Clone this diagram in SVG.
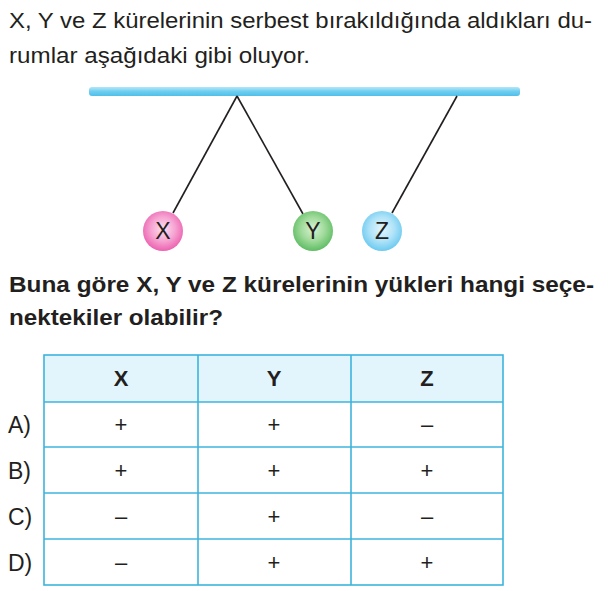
<svg xmlns="http://www.w3.org/2000/svg" width="611" height="591" viewBox="0 0 611 591">
<style>
.t{font-family:"Liberation Sans",Arial,sans-serif;fill:#231f20}
.p{font-size:22px}
.b{font-size:22px;font-weight:bold}
.lbl{font-size:23px}
.hd{font-size:22px;font-weight:bold;text-anchor:middle}
.cell{font-size:22px;text-anchor:middle}
.ball{font-size:23px;text-anchor:middle}
.str{stroke:#231f20;stroke-width:1.6;fill:none}
.grid{stroke:#3db4dc;stroke-width:1.6;fill:none}
</style>
<defs>
<linearGradient id="barG" x1="0" y1="0" x2="0" y2="1">
<stop offset="0" stop-color="#b4e7f8"/>
<stop offset="0.5" stop-color="#6fcdf0"/>
<stop offset="1" stop-color="#4fbfea"/>
</linearGradient>
<radialGradient id="gX" cx="0.5" cy="0.45" r="0.55">
<stop offset="0" stop-color="#fde0f0"/>
<stop offset="0.55" stop-color="#f6a4d2"/>
<stop offset="1" stop-color="#ec62b0"/>
</radialGradient>
<radialGradient id="gY" cx="0.5" cy="0.45" r="0.55">
<stop offset="0" stop-color="#d9f2d4"/>
<stop offset="0.55" stop-color="#9fda9a"/>
<stop offset="1" stop-color="#5fbd64"/>
</radialGradient>
<radialGradient id="gZ" cx="0.5" cy="0.45" r="0.55">
<stop offset="0" stop-color="#e3f6fd"/>
<stop offset="0.55" stop-color="#b0e3f8"/>
<stop offset="1" stop-color="#6ccaf0"/>
</radialGradient>
</defs>

<g id="intro">
<text class="t p" x="9" y="28" textLength="583" lengthAdjust="spacingAndGlyphs">X, Y ve Z kürelerinin serbest bırakıldığında aldıkları du-</text>
<text class="t p" x="9" y="63" textLength="301" lengthAdjust="spacingAndGlyphs">rumlar aşağıdaki gibi oluyor.</text>
</g>

<g id="bar">
<rect x="89" y="87" width="431" height="9" rx="3" fill="url(#barG)"/>
</g>

<g id="connectors">
<line class="str" x1="237" y1="96" x2="173" y2="213"/>
<line class="str" x1="237" y1="96" x2="303" y2="214"/>
<line class="str" x1="457" y1="96" x2="392" y2="213"/>
</g>

<g id="ballX">
<circle cx="163" cy="231" r="20" fill="url(#gX)"/>
<text class="t ball" x="163" y="239">X</text>
</g>
<g id="ballY">
<circle cx="313" cy="231" r="20" fill="url(#gY)"/>
<text class="t ball" x="313" y="239">Y</text>
</g>
<g id="ballZ">
<circle cx="382" cy="231" r="20" fill="url(#gZ)"/>
<text class="t ball" x="382" y="239">Z</text>
</g>

<g id="question">
<text class="t b" x="9" y="292" textLength="585" lengthAdjust="spacingAndGlyphs">Buna göre X, Y ve Z kürelerinin yükleri hangi seçe-</text>
<text class="t b" x="9" y="325" textLength="214" lengthAdjust="spacingAndGlyphs">nektekiler olabilir?</text>
</g>

<g id="table">
<rect x="44" y="355" width="459" height="47" fill="#e2f5fc"/>
<rect class="grid" x="44" y="355" width="459" height="230"/>
<line class="grid" x1="44" y1="402" x2="503" y2="402"/>
<line class="grid" x1="44" y1="447" x2="503" y2="447"/>
<line class="grid" x1="44" y1="493" x2="503" y2="493"/>
<line class="grid" x1="44" y1="539" x2="503" y2="539"/>
<line class="grid" x1="198" y1="355" x2="198" y2="585"/>
<line class="grid" x1="351" y1="355" x2="351" y2="585"/>

<text class="t hd" x="121" y="386">X</text>
<text class="t hd" x="274" y="386">Y</text>
<text class="t hd" x="427" y="386">Z</text>

<text class="t lbl" x="8" y="433">A)</text>
<text class="t lbl" x="8" y="479">B)</text>
<text class="t lbl" x="8" y="525">C)</text>
<text class="t lbl" x="8" y="571">D)</text>

<text class="t cell" x="121" y="432">+</text>
<text class="t cell" x="274" y="432">+</text>
<text class="t cell" x="427" y="432">–</text>

<text class="t cell" x="121" y="478">+</text>
<text class="t cell" x="274" y="478">+</text>
<text class="t cell" x="427" y="478">+</text>

<text class="t cell" x="121" y="524">–</text>
<text class="t cell" x="274" y="524">+</text>
<text class="t cell" x="427" y="524">–</text>

<text class="t cell" x="121" y="570">–</text>
<text class="t cell" x="274" y="570">+</text>
<text class="t cell" x="427" y="570">+</text>
</g>
</svg>
